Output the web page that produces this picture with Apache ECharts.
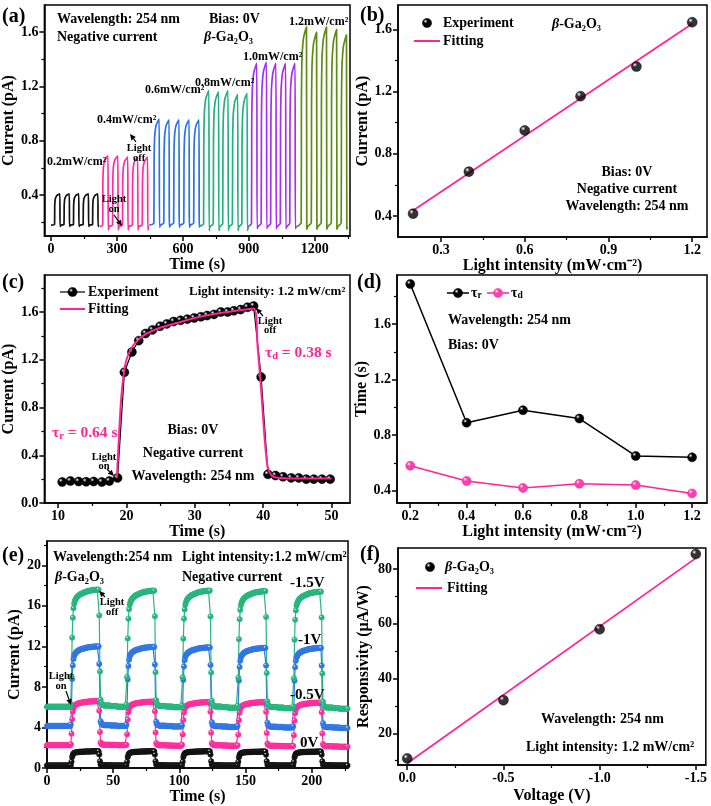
<!DOCTYPE html>
<html>
<head>
<meta charset="utf-8">
<script src="https://cdn.jsdelivr.net/npm/echarts@6/dist/echarts.min.js"></script>
<style>
html,body{margin:0;padding:0;background:#ffffff;}
#chart{width:711px;height:806px;}
</style>
</head>
<body>
<div id="chart"></div>
<script>
// ================= DATA =================
// (a) transient photocurrent at six light intensities (t in s, I in pA)
const aLabels = ['0.2mW/cm²', '0.4mW/cm²', '0.6mW/cm²', '0.8mW/cm²', '1.0mW/cm²', '1.2mW/cm²'];
const aSegStart = [0, 222, 447, 673, 898, 1121];
const aSegEnd = [222, 447, 673, 898, 1121, 1352];
const aBase = [0.18, 0.17, 0.18, 0.17, 0.17, 0.17];
const aDip = [0.17, 0.145, 0.165, 0.14, 0.155, 0.15];
const aRise = [
  [16, 59, 102, 146, 189],
  [235, 280, 325, 370, 415],
  [468, 513, 558, 604, 649],
  [694, 738, 781, 825, 868],
  [912, 956, 999, 1043, 1086],
  [1138, 1184, 1229, 1275, 1320]
];
const aPeak = [
  [0.41, 0.41, 0.41, 0.41, 0.41],
  [0.69, 0.69, 0.68, 0.68, 0.68],
  [0.96, 0.955, 0.955, 0.955, 0.955],
  [1.17, 1.16, 1.17, 1.14, 1.15],
  [1.37, 1.38, 1.37, 1.37, 1.37],
  [1.64, 1.60, 1.64, 1.62, 1.58]
];
// pulse shape: seconds after light-on, fraction of step
const pulseRel = [0, 1, 2, 3, 4, 6, 10, 16, 24];
const pulseFrac = [0.02, 0.62, 0.74, 0.81, 0.85, 0.89, 0.94, 0.97, 1.0];
const aXTicks = [0, 300, 600, 900, 1200];
const aXMinor = [150, 450, 750, 1050, 1350];
const aYTicks = [0.4, 0.8, 1.2, 1.6];
const aYMinor = [0.2, 0.6, 1.0, 1.4];

// (b) photocurrent vs light intensity
const bIntensity = [0.2, 0.4, 0.6, 0.8, 1.0, 1.2];
const bCurrent = [0.415, 0.685, 0.95, 1.17, 1.36, 1.645];
const bFitX = [0.2, 1.2];
const bFitY = [0.435, 1.635];
const bXTicks = [0.3, 0.6, 0.9, 1.2];
const bXMinor = [0.45, 0.75, 1.05];
const bYTicks = [0.4, 0.8, 1.2, 1.6];
const bYMinor = [0.6, 1.0, 1.4];

// (c) single on/off cycle at 1.2 mW/cm2
const cTime = [10.6, 11.8, 13.0, 14.1, 15.2, 16.4, 17.5, 18.7, 19.7, 20.8, 21.8, 22.8, 23.8, 24.9, 25.9, 26.9, 27.9, 28.9, 29.9, 30.9, 31.8, 32.8, 33.8, 34.8, 35.7, 36.7, 37.7, 38.6, 39.7, 40.7, 41.8, 42.9, 44.1, 45.2, 46.3, 47.4, 48.6, 49.8];
const cCurrent = [0.176, 0.184, 0.18, 0.178, 0.18, 0.176, 0.184, 0.21, 1.095, 1.265, 1.36, 1.42, 1.45, 1.48, 1.50, 1.52, 1.53, 1.54, 1.55, 1.56, 1.57, 1.58, 1.60, 1.60, 1.61, 1.62, 1.64, 1.65, 1.055, 0.24, 0.23, 0.22, 0.21, 0.21, 0.20, 0.20, 0.20, 0.20];
const cFitTime = [18.6, 18.9, 19.2, 19.6, 20.0, 20.5, 21.0, 22.0, 23.0, 25.0, 27.5, 30.0, 33.0, 36.0, 38.6, 39.2, 39.7, 40.2, 40.6, 41.0, 41.5, 42.5, 45.0, 50.0];
const cFitCurrent = [0.21, 0.55, 0.85, 1.08, 1.2, 1.27, 1.32, 1.38, 1.42, 1.47, 1.51, 1.55, 1.585, 1.61, 1.63, 1.30, 0.95, 0.55, 0.32, 0.25, 0.22, 0.21, 0.205, 0.205];
const cXTicks = [10, 20, 30, 40, 50];
const cXMinor = [15, 25, 35, 45];
const cYTicks = [0, 0.4, 0.8, 1.2, 1.6];
const cYMinor = [0.2, 0.6, 1.0, 1.4, 1.8];

// (d) rise / decay times vs light intensity
const dIntensity = [0.2, 0.4, 0.6, 0.8, 1.0, 1.2];
const dTauR = [1.89, 0.89, 0.98, 0.92, 0.65, 0.64];
const dTauD = [0.58, 0.47, 0.42, 0.45, 0.44, 0.38];
const dXTicks = [0.2, 0.4, 0.6, 0.8, 1.0, 1.2];
const dXMinor = [0.3, 0.5, 0.7, 0.9, 1.1];
const dYTicks = [0.4, 0.8, 1.2, 1.6];
const dYMinor = [0.6, 1.0, 1.4, 1.8];

// (e) on/off cycles at four biases
const eNames = ['0V', '-0.5V', '-1V', '-1.5V'];
const eOn = [18, 60, 102, 144, 186];
const eStep = 0.5;
const eShape = [
  0.02, 0.26, 0.59, 0.76, 0.84, 0.88, 0.90, 0.915, 0.925, 0.935,
  0.94, 0.945, 0.95, 0.955, 0.96, 0.962, 0.965, 0.968, 0.97, 0.972,
  0.975, 0.977, 0.98, 0.982, 0.984, 0.986, 0.988, 0.989, 0.99, 0.991,
  0.992, 0.993, 0.994, 0.995, 0.996, 0.997, 0.998, 0.998, 0.999, 0.999,
  1.0, 1.0, 1.0, 0.78, 0.30, 0.06, 0.03, 0.02, 0.015, 0.012,
  0.01, 0.01, 0.01, 0.01, 0.01, 0.01, 0.01, 0.01, 0.01, 0.01,
  0.005, 0.005, 0.005, 0.005, 0.005, 0.005, 0.005, 0.005, 0.005, 0.005,
  0, 0, 0, 0, 0, 0, 0, 0, 0, 0, 0, 0, 0, 0
];
const eBase = [
  [0.25, 0.25, 0.25, 0.25, 0.25],
  [2.25, 2.2, 2.2, 2.15, 2.1],
  [4.15, 4.1, 4.05, 4.0, 3.95],
  [6.05, 6.0, 5.95, 5.9, 5.85]
];
const ePeak = [
  [1.65, 1.65, 1.65, 1.62, 1.62],
  [6.6, 6.55, 6.5, 6.5, 6.45],
  [12.0, 11.95, 11.9, 11.85, 11.85],
  [17.6, 17.5, 17.5, 17.45, 17.4]
];
const eXTicks = [0, 50, 100, 150, 200];
const eXMinor = [25, 75, 125, 175, 225];
const eYTicks = [0, 4, 8, 12, 16, 20];
const eYMinor = [2, 6, 10, 14, 18, 22];

// (f) responsivity vs voltage
const fVoltage = [0, -0.5, -1.0, -1.5];
const fResp = [10.8, 32.1, 58.0, 85.5];
const fFitX = [0, -1.5];
const fFitY = [9.0, 84.0];
const fXTicks = [0, -0.5, -1.0, -1.5];
const fXMinor = [-0.25, -0.75, -1.25];
const fYTicks = [20, 40, 60, 80];
const fYMinor = [10, 30, 50, 70];

// ================= STYLE =================
const FONT = "'Liberation Serif', 'Times New Roman', serif";
const aColors = ['#111111', '#ff2ba0', '#2a72e6', '#22b07e', '#a52ff0', '#5d8c16'];
const eColors = ['#111111', '#ff2d9b', '#3076e3', '#27b57c'];
const PINK = '#ff2597';

function sphere(c, hi) {
  return new echarts.graphic.RadialGradient(0.35, 0.32, 0.7,
    [{offset: 0, color: hi || '#ffffff'}, {offset: 0.3, color: c}, {offset: 1, color: c}]);
}

const grids = [
  {left: 43, top: 5, width: 307, height: 231},
  {left: 398, top: 5, width: 309, height: 232},
  {left: 43, top: 275, width: 307, height: 228},
  {left: 397, top: 275, width: 310, height: 228},
  {left: 47, top: 541, width: 301, height: 227},
  {left: 398, top: 548, width: 309, height: 217}
].map(g => Object.assign({show: true, borderColor: '#000', borderWidth: 1.5, backgroundColor: 'transparent', containLabel: false}, g));

const xAxes = [], yAxes = [];
function fmt1(v) { return (+v).toFixed(1); }
function fmt0(v) { return String(v); }
function addAxes(list, dim, grid, min, max, majors, minors, fmt, name, nameGap, inverse) {
  const nameStyle = {fontFamily: FONT, fontWeight: 'bold', fontSize: 16, color: '#000'};
  list.push({
    type: 'value', gridIndex: grid, min: min, max: max, inverse: !!inverse,
    position: dim === 'x' ? 'bottom' : 'left',
    name: name, nameLocation: 'middle', nameGap: nameGap, nameTextStyle: nameStyle,
    axisLine: {show: true, onZero: false, lineStyle: {color: '#000', width: 1.5}},
    axisTick: {show: true, customValues: majors, length: 5, inside: false, lineStyle: {color: '#000', width: 1.5}},
    axisLabel: {show: true, customValues: majors, formatter: fmt, fontFamily: FONT, fontWeight: 'bold', fontSize: 14, color: '#000', margin: 6},
    splitLine: {show: false}
  });
  list.push({
    type: 'value', gridIndex: grid, min: min, max: max, inverse: !!inverse,
    position: dim === 'x' ? 'bottom' : 'left', offset: 0,
    axisLine: {show: false, onZero: false},
    axisTick: {show: true, customValues: minors, length: 3, inside: false, lineStyle: {color: '#000', width: 1.2}},
    axisLabel: {show: false},
    splitLine: {show: false}
  });
}
addAxes(xAxes, 'x', 0, -30, 1360, aXTicks, aXMinor, fmt0, 'Time (s)', 19);
addAxes(yAxes, 'y', 0, 0.1, 1.8, aYTicks, aYMinor, fmt1, 'Current (pA)', 23);
addAxes(xAxes, 'x', 1, 0.146, 1.253, bXTicks, bXMinor, fmt1, 'Light intensity (mW·cm⁻²)', 19);
addAxes(yAxes, 'y', 1, 0.265, 1.756, bYTicks, bYMinor, fmt1, 'Current (pA)', 26);
addAxes(xAxes, 'x', 2, 8, 52.7, cXTicks, cXMinor, fmt0, 'Time (s)', 20);
addAxes(yAxes, 'y', 2, 0, 1.91, cYTicks, cYMinor, fmt1, 'Current (pA)', 23);
addAxes(xAxes, 'x', 3, 0.153, 1.253, dXTicks, dXMinor, fmt1, 'Light intensity (mW·cm⁻²)', 21);
addAxes(yAxes, 'y', 3, 0.311, 1.955, dYTicks, dYMinor, fmt1, 'Time (s)', 25);
addAxes(xAxes, 'x', 4, 0, 227.4, eXTicks, eXMinor, fmt0, 'Time (s)', 19);
addAxes(yAxes, 'y', 4, 0, 22.4, eYTicks, eYMinor, fmt0, 'Current (pA)', 22);
addAxes(xAxes, 'x', 5, -1.552, 0.048, fXTicks, fXMinor, fmt1, 'Voltage (V)', 23, true);
addAxes(yAxes, 'y', 5, 8.4, 87.7, fYTicks, fYMinor, fmt0, 'Responsivity (μA/W)', 26);

// ================= SERIES =================
const series = [];
function buildA(k) {
  const pts = [[aSegStart[k], aBase[k]]];
  aRise[k].forEach((r, i) => {
    pulseRel.forEach((d, j) => pts.push([r + d, aBase[k] + pulseFrac[j] * (aPeak[k][i] - aBase[k])]));
    pts.push([r + 25.5, aDip[k]]);
    pts.push([r + 30, aBase[k]]);
  });
  pts.push([aSegEnd[k], aBase[k]]);
  return pts;
}
aLabels.forEach((lab, k) => {
  series.push({type: 'line', name: 'a' + k, xAxisIndex: 0, yAxisIndex: 0, data: buildA(k),
    symbol: 'none', smooth: 0.25, lineStyle: {color: aColors[k], width: 1.7}, itemStyle: {color: aColors[k]}});
});

// (b)
series.push({type: 'line', name: 'Fitting', xAxisIndex: 2, yAxisIndex: 2, data: bFitX.map((x, i) => [x, bFitY[i]]),
  symbol: 'none', lineStyle: {color: PINK, width: 1.8}, itemStyle: {color: PINK}, z: 3});
series.push({type: 'scatter', name: 'Experiment', xAxisIndex: 2, yAxisIndex: 2, data: bIntensity.map((x, i) => [x, bCurrent[i]]),
  symbol: 'circle', symbolSize: 10, itemStyle: {color: sphere('#000000'), borderColor: '#000', borderWidth: 0.5}, z: 4});

// (c)
series.push({type: 'line', name: 'Experiment ', xAxisIndex: 4, yAxisIndex: 4, data: cTime.map((x, i) => [x, cCurrent[i]]),
  symbol: 'circle', symbolSize: 9, showSymbol: true, lineStyle: {color: '#000', width: 1.2},
  itemStyle: {color: sphere('#000000'), borderColor: '#000', borderWidth: 0.5}, z: 3});
series.push({type: 'line', name: 'Fitting ', xAxisIndex: 4, yAxisIndex: 4, data: cFitTime.map((x, i) => [x, cFitCurrent[i]]),
  symbol: 'none', smooth: 0.3, lineStyle: {color: PINK, width: 2}, itemStyle: {color: PINK}, z: 4});

// (d)
series.push({type: 'line', name: 'τr', xAxisIndex: 6, yAxisIndex: 6, data: dIntensity.map((x, i) => [x, dTauR[i]]),
  symbol: 'circle', symbolSize: 9, lineStyle: {color: '#000', width: 1.5},
  itemStyle: {color: sphere('#000000'), borderColor: '#000', borderWidth: 0.5}});
series.push({type: 'line', name: 'τd', xAxisIndex: 6, yAxisIndex: 6, data: dIntensity.map((x, i) => [x, dTauD[i]]),
  symbol: 'circle', symbolSize: 9, lineStyle: {color: PINK, width: 1.5},
  itemStyle: {color: sphere('#ff3fae'), borderColor: '#e0207f', borderWidth: 0.5}});

// (e)
function buildE(s) {
  const pts = [];
  for (let t = 0; t < eOn[0]; t += eStep) pts.push([t, eBase[s][0]]);
  eOn.forEach((on, c) => {
    eShape.forEach((f, j) => pts.push([on + j * eStep, eBase[s][c] + f * (ePeak[s][c] - eBase[s][c])]));
  });
  return pts;
}
eNames.forEach((n, s) => {
  series.push({type: 'line', name: 'e' + n, xAxisIndex: 8, yAxisIndex: 8, data: buildE(s),
    symbol: 'circle', symbolSize: 5.5, showSymbol: true, showAllSymbol: true, lineStyle: {color: eColors[s], width: 1.2},
    itemStyle: {color: sphere(eColors[s], '#e8fff4'), borderColor: eColors[s], borderWidth: 0.4}});
});

// (f)
series.push({type: 'line', name: 'Fitting  ', xAxisIndex: 10, yAxisIndex: 10, data: fFitX.map((x, i) => [x, fFitY[i]]),
  symbol: 'none', lineStyle: {color: PINK, width: 1.8}, itemStyle: {color: PINK}, z: 3});
series.push({type: 'scatter', name: 'β-Ga₂O₃', xAxisIndex: 10, yAxisIndex: 10, data: fVoltage.map((x, i) => [x, fResp[i]]),
  symbol: 'circle', symbolSize: 10, itemStyle: {color: sphere('#000000'), borderColor: '#000', borderWidth: 0.5}, z: 4});

// ================= ANNOTATIONS =================
const baseTxt = {fill: '#000', fontFamily: FONT, fontWeight: 'bold', fontSize: 14, align: 'left', verticalAlign: 'middle'};
const richI = {i: {fontStyle: 'italic', fontWeight: 'bold', fontFamily: FONT, fontSize: 14}};
function T(text, x, y, o) {
  return {type: 'text', x: x, y: y, z: 100, silent: true, style: Object.assign({text: text}, baseTxt, o || {})};
}
function arrow(x1, y1, x2, y2) {
  const a = Math.atan2(y2 - y1, x2 - x1), L = 6, W = 2.8;
  const bx = x2 - L * Math.cos(a), by = y2 - L * Math.sin(a);
  return [
    {type: 'line', z: 100, silent: true, shape: {x1: x1, y1: y1, x2: bx, y2: by}, style: {stroke: '#000', lineWidth: 1.2}},
    {type: 'polygon', z: 100, silent: true, shape: {points: [[x2, y2], [bx + W * Math.sin(a), by - W * Math.cos(a)], [bx - W * Math.sin(a), by + W * Math.cos(a)]]}, style: {fill: '#000'}}
  ];
}
function seg(x1, y, x2, color, w) {
  return {type: 'line', z: 100, silent: true, shape: {x1: x1, y1: y, x2: x2, y2: y}, style: {stroke: color, lineWidth: w || 2}};
}
function ball(cx, cy, color, hi) {
  return {type: 'circle', z: 101, silent: true, shape: {cx: cx, cy: cy, r: 4.6}, style: {fill: sphere(color, hi), stroke: color, lineWidth: 0.5}};
}
const small = {fontSize: 10.5};
const segF = {fontSize: 12};
const tauRich = {t: {fontSize: 15.5, fontWeight: 'bold', fontFamily: FONT, fill: PINK}, s: {fontSize: 10.5, fontWeight: 'bold', fontFamily: FONT, fill: PINK, padding: [7, 0, 0, 0]}};
const legRich = {t: {fontSize: 14, fontWeight: 'bold', fontFamily: FONT, fill: '#000'}, s: {fontSize: 9.5, fontWeight: 'bold', fontFamily: FONT, fill: '#000', padding: [6, 0, 0, 0]}};
const gfx = [
  // (a)
  T('(a)', 2, 17, {fontSize: 20}),
  T('Wavelength: 254 nm', 57, 19),
  T('Negative current', 57, 37),
  T('Bias: 0V', 209, 19),
  T('{i|β}-Ga₂O₃', 204, 37, {rich: richI}),
  T(aLabels[0], 47, 162, segF),
  T(aLabels[1], 97, 120, segF),
  T(aLabels[2], 145, 90, segF),
  T(aLabels[3], 195, 83, segF),
  T(aLabels[4], 243, 57, segF),
  T(aLabels[5], 289, 22, segF),
  T('Light', 114, 199, Object.assign({align: 'center'}, small)),
  T('on', 114, 209, Object.assign({align: 'center'}, small)),
  ...arrow(114, 215, 122, 226),
  T('Light', 139, 148, Object.assign({align: 'center'}, small)),
  T('off', 139, 158, Object.assign({align: 'center'}, small)),
  ...arrow(136, 142, 130, 134),
  // (b)
  T('(b)', 360, 16, {fontSize: 20}),
  ball(427, 23, '#000000'),
  T('Experiment', 443, 23),
  seg(414, 41, 440, PINK, 2),
  T('Fitting', 443, 41),
  T('{i|β}-Ga₂O₃', 552, 24, {rich: richI}),
  T('Bias: 0V', 627, 172, {align: 'center'}),
  T('Negative current', 627, 189, {align: 'center'}),
  T('Wavelength: 254 nm', 627, 206, {align: 'center'}),
  // (c)
  T('(c)', 2, 283, {fontSize: 20}),
  seg(60, 292, 85, '#000', 1.2),
  ball(72.5, 292, '#000000'),
  T('Experiment', 88, 292),
  seg(60, 309, 85, PINK, 2),
  T('Fitting', 88, 309),
  T('Light intensity: 1.2 mW/cm²', 189, 292, {fontSize: 13}),
  T('{t|τ}{s|d}{t| = 0.38 s}', 265, 353, {fill: PINK, rich: tauRich}),
  T('{t|τ}{s|r}{t| = 0.64 s}', 52, 433, {fill: PINK, rich: tauRich}),
  T('Bias: 0V', 193, 430, {align: 'center'}),
  T('Negative current', 193, 453, {align: 'center'}),
  T('Wavelength: 254 nm', 193, 476, {align: 'center'}),
  T('Light', 104, 457, Object.assign({align: 'center'}, small)),
  T('on', 104, 466, Object.assign({align: 'center'}, small)),
  ...arrow(107, 469, 114, 476),
  T('Light', 270, 321, Object.assign({align: 'center'}, small)),
  T('off', 270, 330, Object.assign({align: 'center'}, small)),
  ...arrow(263, 316, 256, 308),
  // (d)
  T('(d)', 357, 283, {fontSize: 20}),
  seg(447, 293, 469, '#000', 1.5),
  ball(458, 293, '#000000'),
  T('{t|τ}{s|r}', 471, 293, {rich: legRich}),
  seg(487, 293, 509, PINK, 1.5),
  ball(498, 293, '#ff3fae'),
  T('{t|τ}{s|d}', 511, 293, {rich: legRich}),
  T('Wavelength: 254 nm', 448, 320),
  T('Bias: 0V', 448, 345),
  // (e)
  T('(e)', 2, 556, {fontSize: 20}),
  T('Wavelength:254 nm', 53, 557),
  T('Light intensity:1.2 mW/cm²', 182, 557, {fontSize: 14}),
  T('{i|β}-Ga₂O₃', 55, 577, {rich: richI}),
  T('Negative current', 182, 577),
  T('-1.5V', 290, 583, {fontSize: 15}),
  T('-1V', 298, 640, {fontSize: 15}),
  T('-0.5V', 290, 695, {fontSize: 15}),
  T('0V', 300, 743, {fontSize: 15}),
  T('Light', 112, 602, Object.assign({align: 'center'}, small)),
  T('off', 112, 612, Object.assign({align: 'center'}, small)),
  ...arrow(105, 597, 99, 591),
  T('Light', 61, 676, Object.assign({align: 'center'}, small)),
  T('on', 61, 686, Object.assign({align: 'center'}, small)),
  ...arrow(66, 691, 71, 705),
  // (f)
  T('(f)', 360, 555, {fontSize: 20}),
  ball(430, 567, '#000000'),
  T('{i|β}-Ga₂O₃', 445, 567, {rich: richI}),
  seg(416, 588, 442, PINK, 2),
  T('Fitting', 447, 588),
  T('Wavelength: 254 nm', 541, 719),
  T('Light intensity: 1.2 mW/cm²', 526, 747)
];

const chart = echarts.init(document.getElementById('chart'), null, {renderer: 'canvas'});
chart.setOption({
  backgroundColor: '#ffffff',
  animation: false,
  grid: grids,
  xAxis: xAxes,
  yAxis: yAxes,
  series: series,
  graphic: {elements: gfx}
});
</script>
</body>
</html>
